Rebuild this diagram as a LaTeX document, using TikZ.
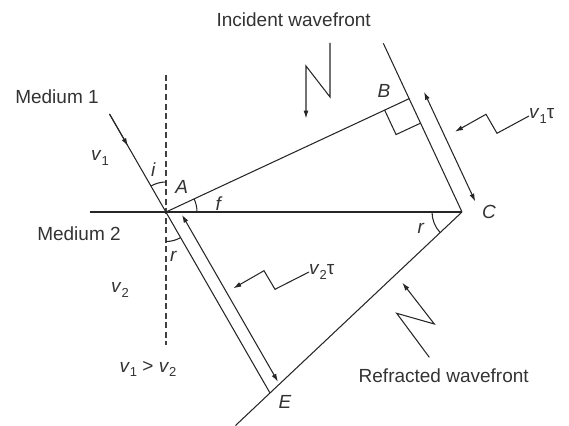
\documentclass[tikz,border=0pt]{standalone}
\usepackage{fontspec}
\setmainfont{Liberation Sans}
\usetikzlibrary{arrows.meta,calc}
\newcommand\vsubs[1]{\textit{v}\raisebox{-4.5pt}{\fontsize{13}{13}\selectfont #1}}
\begin{document}
\begin{tikzpicture}[x=1pt,y=-1pt,
  ln/.style={line width=1.05pt, draw=black!85},
  tipend/.style={-{Latex[length=8pt,width=5pt]}},
  dtip/.style={{Latex[length=8pt,width=5pt]}-{Latex[length=8pt,width=5pt]}},
  lbl/.style={inner sep=0pt, text=black!80, font=\fontsize{19}{21}\selectfont},
  ilbl/.style={inner sep=0pt, text=black!80, font=\fontsize{19}{21}\selectfont\itshape},
  dashln/.style={line width=1.05pt, draw=black!75, dash pattern=on 6pt off 3.5pt}
]
\useasboundingbox (0,0) rectangle (569,425);
% key points
\coordinate (A) at (166,212);
\coordinate (C) at (462,212);
\coordinate (B) at (409.1,98.7);
\coordinate (E) at (270,393);
\coordinate (Btop) at (383.3,43.3);
\coordinate (Ebot) at (235.5,425.5);
\coordinate (Pin) at (109.5,114);
\coordinate (Hleft) at (90,212);
\coordinate (Ntop) at (166,75);
\coordinate (Nbot) at (166,345);
% lines
\draw[dashln] (Ntop) -- (Nbot);
\draw[ln] (Hleft) -- (C);
\draw[ln] (Pin) -- (E);
\draw[ln, tipend] (Pin) -- ($(Pin)!37pt!(A)$);
\draw[ln] (A) -- (B);
\draw[ln] (Btop) -- (C);
\draw[ln] (C) -- (Ebot);
% right angle at B
\coordinate (sq1) at ($(B)!27pt!(A)$);
\coordinate (sq3) at ($(B)!27pt!(C)$);
\coordinate (sq2) at ($(sq1)+(sq3)-(B)$);
\draw[ln] (sq1) -- (sq2) -- (sq3);
% angle arcs
\draw[ln] ($(A)+(0,-30)$) arc[start angle=-90,end angle=-120,radius=30];
\draw[ln] ($(A)+(31,0)$) arc[start angle=0,end angle=-24.9,radius=31];
\draw[ln] ($(A)+(0,29.5)$) arc[start angle=90,end angle=60.1,radius=29.5];
\draw[ln] ($(C)+(-30,0)$) arc[start angle=180,end angle=136.7,radius=30];
% double arrows
\coordinate (bc1) at (424,91.8);
\coordinate (bc2) at (475.3,201.6);
\draw[ln, dtip] (bc1) -- (bc2);
\coordinate (ae1) at (182,214.8);
\coordinate (ae2) at (278,381.8);
\draw[ln, dtip] (ae1) -- (ae2);
% wavefront symbols
\coordinate (iw1) at (330,43);
\coordinate (iw2) at (330,97);
\coordinate (iw3) at (306,66);
\coordinate (iw4) at (306,118.5);
\draw[ln, tipend] (iw1) -- (iw2) -- (iw3) -- (iw4);
\coordinate (rw1) at (429.3,357.3);
\coordinate (rw2) at (396.7,313.3);
\coordinate (rw3) at (434.3,324);
\coordinate (rw4) at (402.3,282.7);
\draw[ln, tipend] (rw1) -- (rw2) -- (rw3) -- (rw4);
% v1 tau and v2 tau pointers
\node[lbl, anchor=west] (v1t) at (529,116) {\vsubs{1}τ};
\coordinate (z1a) at (497,133.3);
\coordinate (z1b) at (486,114.3);
\coordinate (z1c) at (455,131.7);
\draw[ln, tipend] (v1t.west) -- (z1a) -- (z1b) -- (z1c);
\node[lbl, anchor=west] (v2t) at (309,272) {\vsubs{2}τ};
\coordinate (z2a) at (275,289.3);
\coordinate (z2b) at (264,270.7);
\coordinate (z2c) at (233.3,288.3);
\draw[ln, tipend] (v2t.west) -- (z2a) -- (z2b) -- (z2c);
% labels
\node[lbl] (tinc) at (293.7,20) {Incident wavefront};
\node[lbl] (tref) at (443.7,376) {Refracted wavefront};
\node[lbl] (tm1) at (57,97) {Medium 1};
\node[lbl] (tm2) at (79,233.5) {Medium 2};
\node[lbl] (tv1) at (100,158) {\vsubs{1}};
\node[lbl] (tv2) at (120,290) {\vsubs{2}};
\node[lbl] (tvv) at (148,369) {\vsubs{1} > \vsubs{2}};
\node[ilbl] (li) at (153.3,170) {i};
\node[ilbl] (lA) at (181.7,186.7) {A};
\node[ilbl] (lf) at (218.3,203.3) {f};
\node[ilbl] (lr1) at (173.3,256.7) {r};
\node[ilbl] (lB) at (384,90.7) {B};
\node[ilbl] (lC) at (489,212.3) {C};
\node[ilbl] (lr2) at (420.7,228.3) {r};
\node[ilbl] (lE) at (285,401.7) {E};
\end{tikzpicture}
\end{document}
